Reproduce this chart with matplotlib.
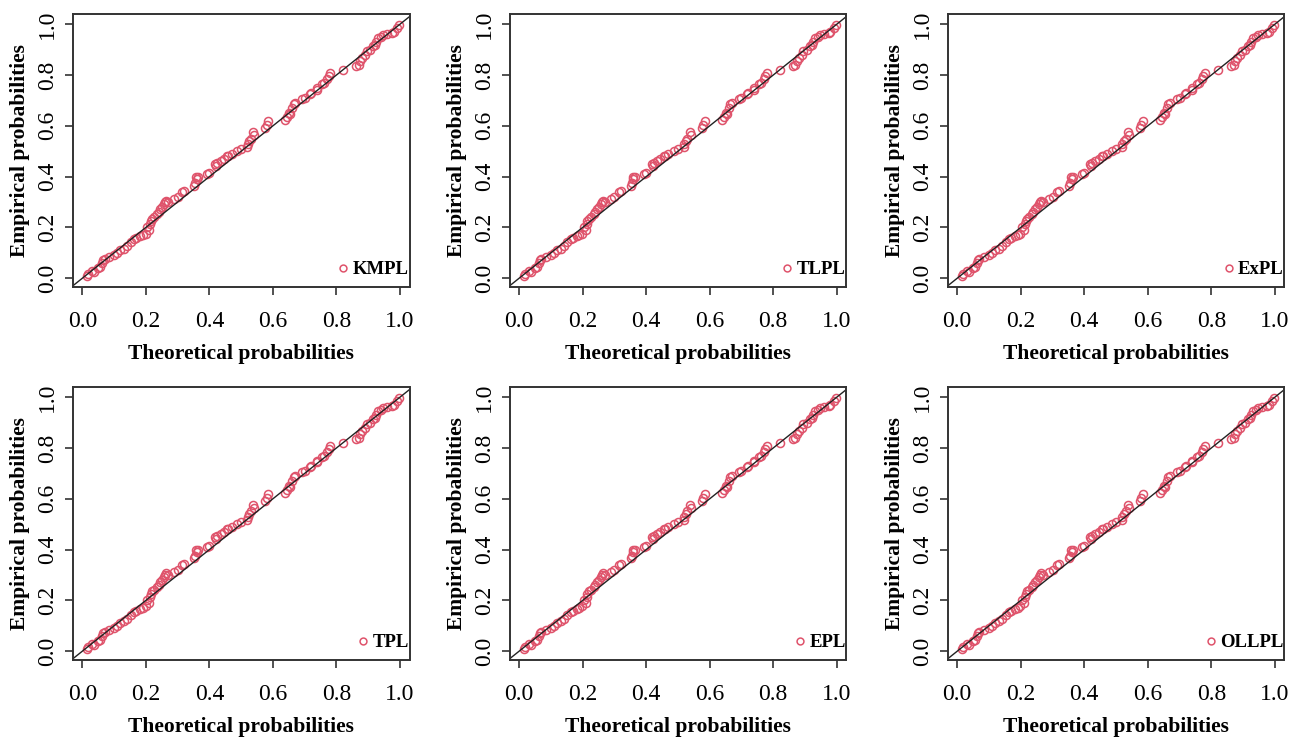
import numpy as np
import matplotlib
matplotlib.use("Agg")
import matplotlib.pyplot as plt

plt.rcParams['font.family'] = ['Liberation Serif', 'DejaVu Serif']

# P-P plot data (same sample for all fitted models)
theo = [0.014, 0.018, 0.030, 0.037, 0.050, 0.055, 0.063, 0.065, 0.070, 0.085,
        0.099, 0.110, 0.120, 0.131, 0.140, 0.152, 0.162, 0.170, 0.183, 0.190,
        0.199, 0.205, 0.209, 0.213, 0.215, 0.220, 0.225, 0.236, 0.240, 0.246,
        0.250, 0.257, 0.260, 0.264, 0.270, 0.288, 0.300, 0.314, 0.320, 0.351,
        0.355, 0.359, 0.360, 0.365, 0.393, 0.400, 0.419, 0.420, 0.425, 0.435,
        0.445, 0.455, 0.460, 0.470, 0.487, 0.500, 0.518, 0.520, 0.524, 0.530,
        0.537, 0.540, 0.576, 0.580, 0.586, 0.639, 0.645, 0.650, 0.654, 0.660,
        0.665, 0.670, 0.691, 0.700, 0.717, 0.720, 0.738, 0.740, 0.754, 0.760,
        0.770, 0.775, 0.780, 0.822, 0.862, 0.870, 0.875, 0.880, 0.890, 0.895,
        0.905, 0.915, 0.921, 0.925, 0.932, 0.940, 0.948, 0.960, 0.974, 0.980,
        0.990, 0.998]
emp = [0.009, 0.017, 0.028, 0.026, 0.040, 0.046, 0.061, 0.070, 0.074, 0.085,
       0.091, 0.098, 0.110, 0.117, 0.128, 0.141, 0.153, 0.160, 0.166, 0.172,
       0.176, 0.200, 0.189, 0.215, 0.225, 0.235, 0.240, 0.254, 0.260, 0.274,
       0.280, 0.291, 0.300, 0.306, 0.300, 0.313, 0.320, 0.339, 0.345, 0.365,
       0.375, 0.398, 0.390, 0.400, 0.411, 0.415, 0.450, 0.440, 0.455, 0.463,
       0.470, 0.482, 0.480, 0.490, 0.502, 0.510, 0.515, 0.530, 0.541, 0.550,
       0.574, 0.565, 0.593, 0.605, 0.619, 0.622, 0.635, 0.650, 0.645, 0.670,
       0.685, 0.690, 0.704, 0.710, 0.724, 0.730, 0.743, 0.750, 0.763, 0.770,
       0.785, 0.795, 0.808, 0.821, 0.834, 0.840, 0.855, 0.867, 0.880, 0.893,
       0.900, 0.915, 0.919, 0.930, 0.945, 0.950, 0.956, 0.960, 0.965, 0.970,
       0.984, 0.995]

models = ["KMPL", "TLPL", "ExPL", "TPL", "EPL", "OLLPL"]
ticks = [0.0, 0.2, 0.4, 0.6, 0.8, 1.0]

pt_color = "#DF536B"
box_color = "#333333"

fig = plt.figure(figsize=(13, 7.4), dpi=100)

lefts = [0.056, 0.392, 0.729]
bottoms = [0.612, 0.108]
w, h = 0.259, 0.369

for i, name in enumerate(models):
    r, c = divmod(i, 3)
    ax = fig.add_axes([lefts[c], bottoms[r], w, h])
    ax.plot(theo, emp, linestyle="none", marker="o", markersize=5.8,
            markerfacecolor="none", markeredgecolor=pt_color,
            markeredgewidth=1.1, label=name)
    ax.axline((0, 0), (1, 1), color="#222222", linewidth=1.0)
    ax.set_xlim(-0.03, 1.03)
    ax.set_ylim(-0.035, 1.04)
    ax.set_xticks(ticks)
    ax.set_yticks(ticks)
    ax.set_xticklabels(["%.1f" % t for t in ticks], fontsize=17)
    ax.set_yticklabels(["%.1f" % t for t in ticks], fontsize=17,
                       rotation=90, va="center")
    ax.tick_params(direction="out", length=6, width=1.2, color=box_color)
    ax.tick_params(axis="x", pad=11)
    ax.tick_params(axis="y", pad=4.5)
    for s in ax.spines.values():
        s.set_color(box_color)
        s.set_linewidth(1.4)
    ax.set_xlabel("Theoretical probabilities", fontsize=15.5,
                  fontweight="bold", labelpad=9)
    ax.set_ylabel("Empirical probabilities", fontsize=15.5,
                  fontweight="bold", labelpad=5)
    ax.legend(loc="lower right", bbox_to_anchor=(1.012, 0.015),
              frameon=False, handlelength=0.5,
              handletextpad=0.25, borderaxespad=0.0, borderpad=0.25,
              markerscale=0.85, prop={"size": 13.5, "weight": "bold"})

fig.savefig("out.png", dpi=100)
